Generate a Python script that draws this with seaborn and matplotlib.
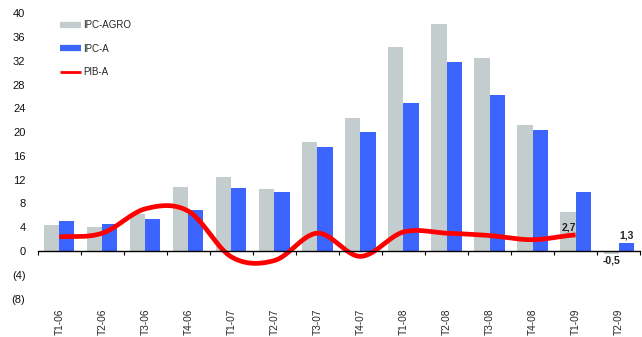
import numpy as np
import pandas as pd
import matplotlib
matplotlib.use("Agg")
import matplotlib.pyplot as plt
import seaborn as sns
from matplotlib.lines import Line2D
from matplotlib.transforms import ScaledTranslation

categories = ["T1-06", "T2-06", "T3-06", "T4-06", "T1-07", "T2-07", "T3-07",
              "T4-07", "T1-08", "T2-08", "T3-08", "T4-08", "T1-09", "T2-09"]
ipc_agro = [4.4, 4.0, 6.2, 10.8, 12.4, 10.4, 18.3, 22.4, 34.3, 38.2, 32.4, 21.2, 6.6, -0.5]
ipc_a = [5.1, 4.5, 5.4, 6.9, 10.6, 9.9, 17.5, 20.0, 24.9, 31.8, 26.2, 20.3, 9.9, 1.3]
pib_a = [2.4, 3.0, 7.1, 6.7, -1.0, -1.6, 3.0, -0.9, 3.2, 3.0, 2.6, 1.9, 2.7]
y_ticks = [-8, -4, 0, 4, 8, 12, 16, 20, 24, 28, 32, 36, 40]

GRAY = "#C3CDCD"
BLUE = "#3C64FF"
RED = "#FF0000"

sns.set_theme(style="white")
plt.rcParams["font.family"] = ["Liberation Sans", "DejaVu Sans"]

df = pd.DataFrame({
    "cat": categories * 2,
    "serie": ["IPC-AGRO"] * len(categories) + ["IPC-A"] * len(categories),
    "val": ipc_agro + ipc_a,
})

fig = plt.figure(figsize=(6.42, 3.37), dpi=100)
ax = fig.add_axes([0.059, 0.114, 0.938, 0.847])

sns.barplot(data=df, x="cat", y="val", hue="serie", order=categories,
            hue_order=["IPC-AGRO", "IPC-A"], palette=[GRAY, BLUE],
            width=0.7, saturation=1, ax=ax, legend=False, errorbar=None,
            linewidth=0, edgecolor="none")


def catmull_rom(xs, ys, n=30):
    xs = np.asarray(xs, float)
    ys = np.asarray(ys, float)
    px = np.concatenate([[2 * xs[0] - xs[1]], xs, [2 * xs[-1] - xs[-2]]])
    py = np.concatenate([[ys[0]], ys, [ys[-1]]])
    outx, outy = [], []
    for i in range(1, len(px) - 2):
        t = np.linspace(0, 1, n, endpoint=False)
        for arr, out in ((px, outx), (py, outy)):
            p0, p1, p2, p3 = arr[i - 1], arr[i], arr[i + 1], arr[i + 2]
            out.extend(0.5 * ((2 * p1) + (-p0 + p2) * t
                              + (2 * p0 - 5 * p1 + 4 * p2 - p3) * t ** 2
                              + (-p0 + 3 * p1 - 3 * p2 + p3) * t ** 3))
    outx.append(xs[-1])
    outy.append(ys[-1])
    return np.array(outx), np.array(outy)


sx, sy = catmull_rom(np.arange(len(pib_a)), pib_a)
ax.plot(sx, sy, color=RED, lw=3.4, solid_capstyle="butt", zorder=5)

# data labels
def fmt(v):
    return f"{v:.1f}".replace(".", ",")

lab_kw = dict(textcoords="offset points", ha="center", fontsize=7.5,
              fontweight="bold", color="#222222")
ax.annotate(fmt(pib_a[-1]), (len(pib_a) - 1, pib_a[-1]), xytext=(-5, 2),
            va="bottom", **lab_kw)
ax.annotate(fmt(ipc_a[-1]), (len(categories) - 1 + 0.175, ipc_a[-1]),
            xytext=(0, 2), va="bottom", **lab_kw)
ax.annotate(fmt(ipc_agro[-1]), (len(categories) - 1 - 0.175, ipc_agro[-1]),
            xytext=(0, -1), va="top", **lab_kw)

ax.set_ylim(-8, 40)
ax.set_xlim(-0.5, len(categories) - 0.5)
ax.set_yticks(y_ticks)
ax.set_yticklabels([f"({-t})" if t < 0 else str(t) for t in y_ticks],
                   fontsize=8, color="#111111")
ax.tick_params(axis="y", length=0, pad=9)

ax.set_xlabel("")
ax.set_ylabel("")
ax.set_xticks(range(len(categories)))
ax.set_xticklabels(categories, color="#111111")
ax.set_xticks(np.arange(len(categories) + 1) - 0.5, minor=True)
ax.tick_params(axis="x", which="major", length=0, pad=3, labelrotation=90,
               labelsize=7.3)
ax.tick_params(axis="x", which="minor", length=3, width=0.8, color="black",
               direction="out", bottom=True)

for s in ["top", "right", "left"]:
    ax.spines[s].set_visible(False)
ax.spines["bottom"].set_position(("data", 0))
ax.spines["bottom"].set_color("black")
ax.spines["bottom"].set_linewidth(1.0)
ax.spines["bottom"].set_zorder(6)

handles = [Line2D([], [], color=GRAY, lw=4.5, solid_capstyle="butt"),
           Line2D([], [], color=BLUE, lw=4.5, solid_capstyle="butt"),
           Line2D([], [], color=RED, lw=2.0, solid_capstyle="butt")]
ax.legend(handles, ["IPC-AGRO", "IPC-A", "PIB-A"], loc="upper left",
          bbox_to_anchor=(0.037, 0.975), frameon=False, fontsize=7,
          handlelength=2.1, handletextpad=0.25, labelspacing=1.39,
          borderaxespad=0, borderpad=0)

fig.canvas.draw()
# push the category labels below the chart area (as in the reference)
for lab in ax.get_xticklabels():
    lab.set_verticalalignment("top")
    lab.set_rotation_mode("default")
    lab.set_transform(lab.get_transform() + ScaledTranslation(0, -0.53, fig.dpi_scale_trans))

fig.savefig("out.png", dpi=100)
